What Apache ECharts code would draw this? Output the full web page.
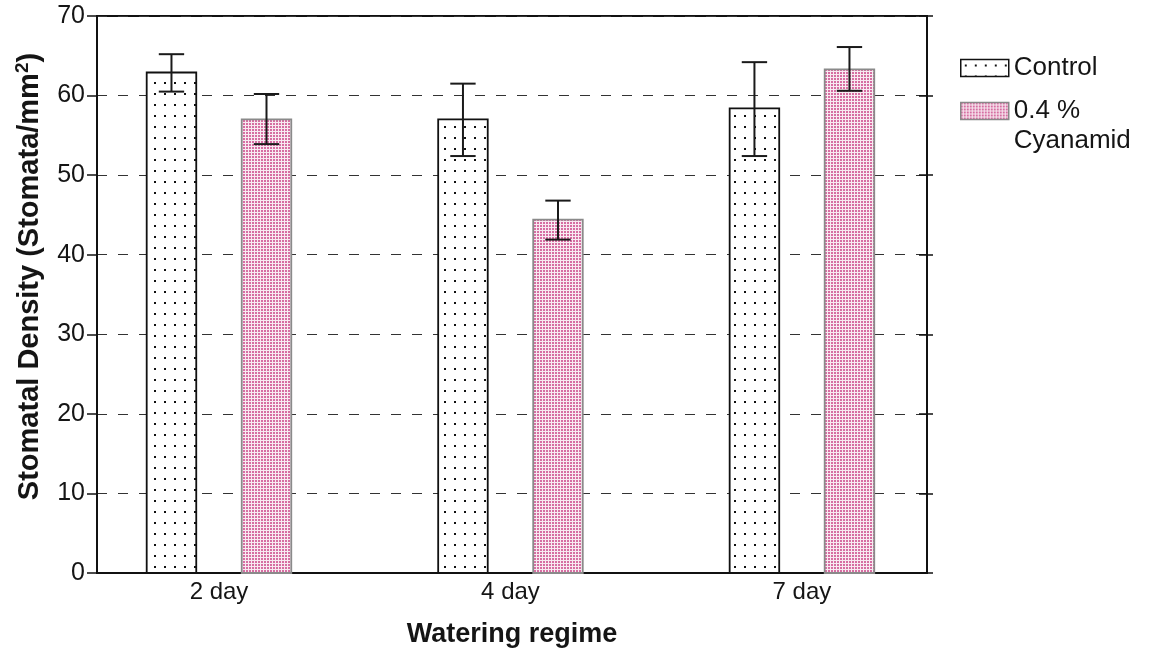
<!DOCTYPE html>
<html>
<head>
<meta charset="utf-8">
<script src="https://cdn.jsdelivr.net/npm/echarts@6/dist/echarts.min.js"></script>
<style>
html,body{margin:0;padding:0;background:#fff;}
#main{width:1159px;height:657px;}
</style>
</head>
<body>
<div id="main"></div>
<script>
// ---- data ----
var categories = ['2 day', '4 day', '7 day'];
var seriesNames = ['Control', '0.4 %\nCyanamid'];
var controlMean = [62.9, 57.0, 58.4];
var controlHigh = [65.2, 61.5, 64.2];
var controlLow  = [60.5, 52.4, 52.4];
var cyanMean = [57.0, 44.4, 63.3];
var cyanHigh = [60.2, 46.8, 66.1];
var cyanLow  = [53.9, 41.9, 60.6];
var yTicks = [0, 10, 20, 30, 40, 50, 60, 70];

// ---- patterns ----
function makeDots() {
  var c = document.createElement('canvas');
  c.width = 10; c.height = 11;
  var g = c.getContext('2d');
  g.fillStyle = '#ffffff'; g.fillRect(0, 0, 10, 11);
  g.fillStyle = '#111111'; g.fillRect(4, 5, 2, 2);
  return c;
}
function makePink() {
  var c = document.createElement('canvas');
  c.width = 3; c.height = 3;
  var g = c.getContext('2d');
  g.fillStyle = '#f8eaf1'; g.fillRect(0, 0, 3, 3);
  g.fillStyle = '#d66ea2'; g.fillRect(0, 0, 2, 2);
  return c;
}
var dotPattern = { image: makeDots(), repeat: 'repeat' };
var pinkPattern = { image: makePink(), repeat: 'repeat' };

var groupOffset = 0.163;  // x-units from category centre
var barW = 0.17;          // x-units
var capW = 0.087;         // x-units

function buildData(mean, lo, hi) {
  return mean.map(function (m, i) { return [i, m, lo[i], hi[i]]; });
}

function makeRender(side, fill, stroke) {
  return function (params, api) {
    var i = api.value(0);
    var cx = i + side * groupOffset;
    var top = api.coord([cx - barW / 2, api.value(1)]);
    var bot = api.coord([cx + barW / 2, 0]);
    var pHi = api.coord([cx, api.value(3)]);
    var pLo = api.coord([cx, api.value(2)]);
    var capHalf = api.size([capW, 0])[0] / 2;
    var lineStyle = { stroke: '#1a1a1a', lineWidth: 2 };
    return {
      type: 'group',
      children: [
        { type: 'rect', shape: { x: top[0], y: top[1], width: bot[0] - top[0], height: bot[1] - top[1] },
          style: { fill: fill, stroke: stroke, lineWidth: 1.8 } },
        { type: 'line', shape: { x1: pHi[0], y1: pHi[1], x2: pLo[0], y2: pLo[1] }, style: lineStyle },
        { type: 'line', shape: { x1: pHi[0] - capHalf, y1: pHi[1], x2: pHi[0] + capHalf, y2: pHi[1] }, style: lineStyle },
        { type: 'line', shape: { x1: pLo[0] - capHalf, y1: pLo[1], x2: pLo[0] + capHalf, y2: pLo[1] }, style: lineStyle }
      ]
    };
  };
}

var chart = echarts.init(document.getElementById('main'), null, { renderer: 'canvas' });
var FONT = 'Liberation Sans, Arial, sans-serif';

var yBase = {
  type: 'value', min: 0, max: 70, interval: 10
};

chart.setOption({
  animation: false,
  backgroundColor: '#ffffff',
  grid: { left: 97, right: 232, top: 16, bottom: 84, show: true, borderColor: '#111', borderWidth: 2, backgroundColor: 'transparent' },
  legend: [
    { data: [{ name: seriesNames[0], itemStyle: { color: dotPattern, borderColor: '#111', borderWidth: 1.5 } }],
      left: 960, top: 53, padding: 0, orient: 'vertical', itemWidth: 48, itemHeight: 17, itemGap: 6,
      icon: 'rect', selectedMode: false,
      textStyle: { fontFamily: FONT, fontSize: 26, color: '#151515', lineHeight: 30 } },
    { data: [{ name: seriesNames[1], itemStyle: { color: pinkPattern, borderColor: '#888', borderWidth: 1.5 } }],
      left: 960, top: 66, padding: 0, orient: 'vertical', itemWidth: 48, itemHeight: 17, itemGap: 6,
      icon: 'rect', selectedMode: false,
      formatter: function (name) { return ' \n' + name; },
      textStyle: { fontFamily: FONT, fontSize: 26, color: '#151515', lineHeight: 30 } }
  ],
  xAxis: {
    type: 'value', min: -0.4185, max: 2.429,
    name: 'Watering regime', nameLocation: 'middle', nameGap: 48,
    nameTextStyle: { fontFamily: FONT, fontSize: 27, fontWeight: 'bold', color: '#151515' },
    axisLine: { show: true, onZero: false, lineStyle: { color: '#111', width: 2 } },
    axisTick: { show: false },
    splitLine: { show: false },
    axisLabel: {
      customValues: [0, 1, 2], margin: 7,
      formatter: function (v) { return categories[Math.round(v)]; },
      fontFamily: FONT, fontSize: 24, color: '#151515'
    }
  },
  yAxis: [
    Object.assign({}, yBase, {
      position: 'left',
      name: '{a|Stomatal Density (Stomata/mm}{s|2}{a|)}', nameLocation: 'middle', nameGap: 48,
      nameTextStyle: {
        padding: [0, 0, 0, 36],
        rich: {
          a: { fontFamily: FONT, fontSize: 29, fontWeight: 'bold', color: '#151515', lineHeight: 34 },
          s: { fontFamily: FONT, fontSize: 19, fontWeight: 'bold', color: '#151515', verticalAlign: 'top', lineHeight: 34, padding: [0, 0, 14, 0] }
        }
      },
      axisLine: { show: true, onZero: false, lineStyle: { color: '#111', width: 2 } },
      axisTick: { show: true, length: 10, lineStyle: { color: '#111', width: 1.5 } },
      axisLabel: { fontFamily: FONT, fontSize: 25, color: '#151515', margin: 12 },
      splitLine: { show: true, lineStyle: { color: '#333', width: 1.2, type: [10, 11] } }
    }),
    Object.assign({}, yBase, {
      position: 'right',
      axisLine: { show: true, onZero: false, lineStyle: { color: '#111', width: 2 } },
      axisTick: { show: true, inside: true, length: 8, lineStyle: { color: '#111', width: 1.5 } },
      axisLabel: { show: false },
      splitLine: { show: false }
    }),
    Object.assign({}, yBase, {
      position: 'right',
      axisLine: { show: false, onZero: false },
      axisTick: { show: true, inside: false, length: 6, lineStyle: { color: '#111', width: 1.5 } },
      axisLabel: { show: false },
      splitLine: { show: false }
    })
  ],
  series: [
    { name: seriesNames[0], type: 'custom', yAxisIndex: 0,
      itemStyle: { color: dotPattern, borderColor: '#111' },
      renderItem: makeRender(-1, dotPattern, '#111'),
      encode: { x: 0, y: [1, 2, 3] },
      data: buildData(controlMean, controlLow, controlHigh) },
    { name: seriesNames[1], type: 'custom', yAxisIndex: 0,
      itemStyle: { color: pinkPattern, borderColor: '#888' },
      renderItem: makeRender(1, pinkPattern, '#8a8a8a'),
      encode: { x: 0, y: [1, 2, 3] },
      data: buildData(cyanMean, cyanLow, cyanHigh) }
  ]
});
</script>
</body>
</html>
